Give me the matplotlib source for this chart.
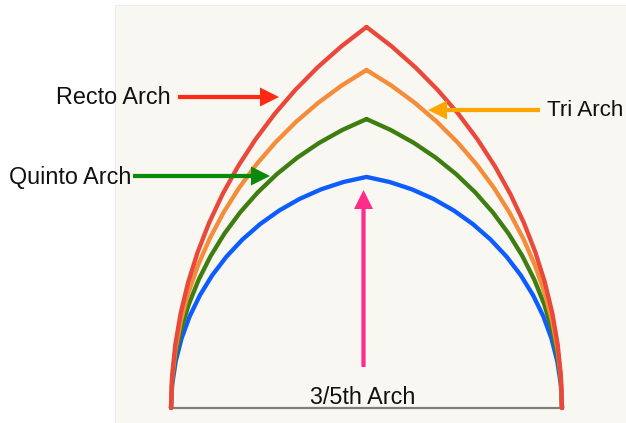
import numpy as np
import matplotlib
matplotlib.use("Agg")
import matplotlib.pyplot as plt
from matplotlib.patches import Rectangle

# ---- data ----
arch_names = ["3/5th Arch", "Quinto Arch", "Tri Arch", "Recto Arch"]
arch_heights = [1.182, 1.478, 1.729, 1.949]   # apex height, half-span = 1
arch_colors = ["#0D5CFF", "#3E7D10", "#F48C3A", "#E9483A"]

label_texts = ["Recto Arch", "Quinto Arch", "Tri Arch", "3/5th Arch"]

# ---- figure ----
W, H = 626, 423
fig = plt.figure(figsize=(W / 100, H / 100), dpi=100)
ax = fig.add_axes([0, 0, 1, 1])
ax.set_axis_off()

S = 195.5          # pixels per unit
X0, Y0 = 366.5, 408  # pixel of (0,0)

def px(x):
    return (x - X0) / S

def py(y):
    return (Y0 - y) / S

ax.set_xlim(px(0), px(W))
ax.set_ylim(py(H), py(0))
ax.set_aspect("auto")

plt.rcParams["font.family"] = ["Liberation Sans", "DejaVu Sans"]

# background panel
ax.add_patch(Rectangle((px(115), py(H + 5)), px(W + 5) - px(115), py(5) - py(H + 5),
                       facecolor="#F8F7F1", edgecolor="#ECEBE6", lw=0.6, zorder=0))

# baseline
ax.plot([-1, 1], [0, 0], color="#7F7F7F", lw=1.6, zorder=1)

# arches (two circular arcs, centres on the baseline)
nseg = 14
for h, c in zip(arch_heights, arch_colors):
    d = (h ** 2 - 1) / 2.0
    r = 1 + d
    t_apex = np.arctan2(h, -d)
    t = np.linspace(np.pi, t_apex, nseg + 1)
    xl = d + r * np.cos(t)
    yl = r * np.sin(t)
    xs = np.concatenate([xl, -xl[::-1]])
    ys = np.concatenate([yl, yl[::-1]])
    ax.plot(xs, ys, color=c, lw=3.1, solid_joinstyle="round",
            solid_capstyle="round", zorder=2)

# arrows (pixel start -> pixel end)
arrows = [
    ((178, 97), (279, 97), "#FF2A12"),
    ((133, 176), (270, 176), "#0A8A0A"),
    ((540, 110), (428, 110), "#FFA500"),
    ((363.5, 367), (363.5, 190), "#FF2D89"),
]
for (x1, y1), (x2, y2), c in arrows:
    ax.arrow(px(x1), py(y1), px(x2) - px(x1), py(y2) - py(y1),
             width=4.2 / S, head_width=19 / S, head_length=19 / S,
             length_includes_head=True, color=c, lw=0, zorder=3)

fs = 16.8
ax.text(px(171), py(97), label_texts[0], ha="right", va="center",
        fontsize=fs, color="#111111", zorder=4)
ax.text(px(9), py(177), label_texts[1], ha="left", va="center",
        fontsize=fs, color="#111111", zorder=4)
ax.text(px(623), py(110), label_texts[2], ha="right", va="center",
        fontsize=16.2, color="#111111", zorder=4)
ax.text(px(363), py(397), label_texts[3], ha="center", va="center",
        fontsize=fs, color="#111111", zorder=4)

fig.savefig("out.png", dpi=100, facecolor="white")
